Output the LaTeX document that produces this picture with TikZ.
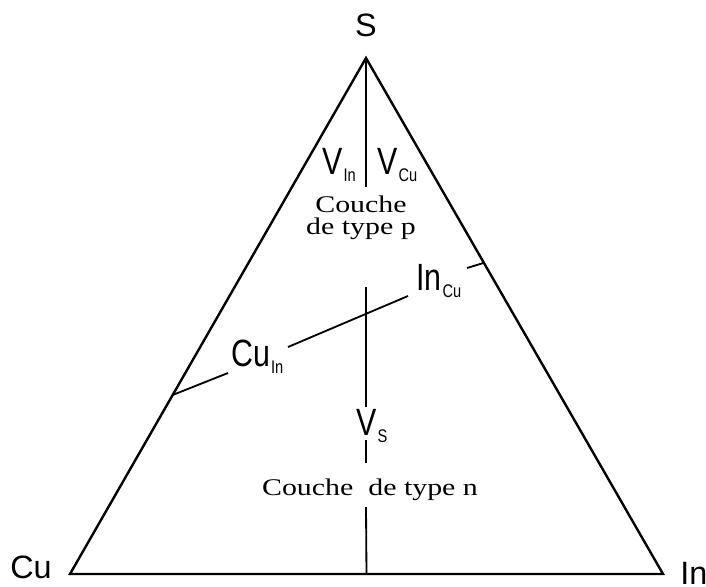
\documentclass[tikz,border=0pt]{standalone}
\usepackage{fontspec}
\setmainfont{Liberation Serif}
\setsansfont{Liberation Sans}
\usetikzlibrary{calc}
\newcommand\elsub[2]{#1\hspace{1pt}\raisebox{-5pt}{\fontsize{13}{13}\selectfont #2}}

\begin{document}
\begin{tikzpicture}[x=0.025cm,y=-0.025cm,
    lbl/.style={font=\sffamily\fontsize{27}{27}\selectfont, inner sep=0pt, xscale=0.8, anchor=base west},
    corner/.style={font=\sffamily\fontsize{23}{23}\selectfont, inner sep=0pt},
    layer/.style={font=\rmfamily\fontsize{17}{15}\selectfont, inner sep=0pt, xscale=1.25, align=center},
    edge/.style={line width=1.7pt, line join=miter},
    tick/.style={line width=1.3pt}]
\useasboundingbox (0,0) rectangle (706,587);

\coordinate (S) at (366,58);
\coordinate (Cu) at (70,574);
\coordinate (In) at (663,574);
\coordinate (mid) at ($(Cu)!0.5!(In)$);
\coordinate (l) at ($(Cu)!0.347!(S)$);
\coordinate (r) at ($(In)!0.603!(S)$);

\draw[edge] (Cu) -- (S) -- (In) -- cycle;

\node[corner, anchor=base] (labS) at (366,36) {S};
\node[corner, anchor=base west] (labCu) at (10,578) {Cu};
\node[corner, anchor=base west] (labIn) at (680,584) {In};

\node[lbl] (VIn) at (322,174) {\elsub{V}{In}};
\node[lbl] (VCu) at (377,174) {\elsub{V}{Cu}};
\node[lbl] (InCu) at (416,290) {\elsub{In}{Cu}};
\node[lbl] (CuIn) at (231,366) {\elsub{Cu}{In}};
\node[lbl] (VS) at (356,435) {\elsub{V}{S}};

\node[layer, anchor=base] (typep) at (361,234) {Couche\\de type p};
\node[layer, anchor=base] (typen) at (370,495) {Couche~~de type n};

\coordinate (v1) at (366,187);
\coordinate (v2) at (366,287);
\coordinate (v3) at (366,407);
\coordinate (v4) at (366,440);
\coordinate (v5) at (366,463);
\coordinate (v6) at (366,507);
\foreach \a/\b in {S/v1, v2/v3, v4/v5, v6/mid}
    \draw[tick] (\a) -- (\b);

\coordinate (ci) at (288,347);
\coordinate (ic) at (408,296);
\coordinate (ls) at (228,373);
\coordinate (rs) at (467,268);
\foreach \a/\b in {ci/ic, ls/l, rs/r}
    \draw[tick] (\a) -- (\b);
\end{tikzpicture}
\end{document}
